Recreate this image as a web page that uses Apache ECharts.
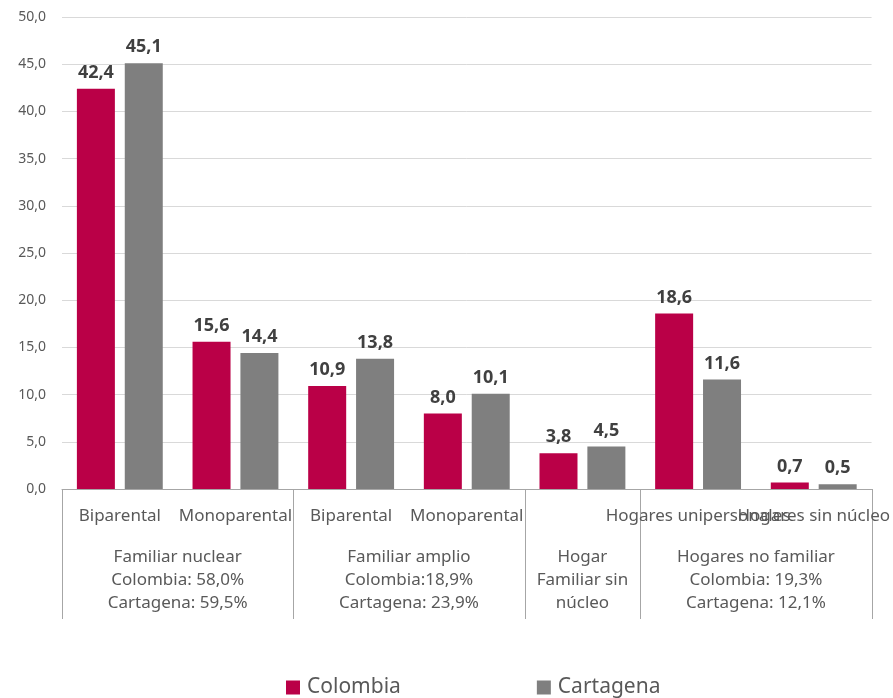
<!DOCTYPE html>
<html>
<head>
<meta charset="utf-8">
<script src="https://cdn.jsdelivr.net/npm/echarts@6/dist/echarts.min.js"></script>
<style>html,body{margin:0;padding:0;background:#fff}#c{width:893px;height:698px}</style>
</head>
<body>
<div id="c"></div>
<script>
const categories = ['Biparental', 'Monoparental', 'Biparental', 'Monoparental', '', 'Hogares unipersonales', 'Hogares sin núcleo'];
const colombia = [42.4, 15.6, 10.9, 8.0, 3.8, 18.6, 0.7];
const cartagena = [45.1, 14.4, 13.8, 10.1, 4.5, 11.6, 0.5];
const groupLabels = [
  'Familiar nuclear\nColombia: 58,0%\nCartagena: 59,5%',
  'Familiar amplio\nColombia:18,9%\nCartagena: 23,9%',
  'Hogar\nFamiliar sin\nnúcleo',
  'Hogares no familiar\nColombia: 19,3%\nCartagena: 12,1%'
];
const groupSpans = [2, 2, 1, 2];
const seriesNames = ['Colombia', 'Cartagena'];

const FONT = 'Noto Sans';
const fmt = v => v.toFixed(1).replace('.', ',');
const chart = echarts.init(document.getElementById('c'));
const labelCfg = {
  show: true, position: 'top', distance: 7,
  fontFamily: FONT, fontSize: 18, fontWeight: 'bold', color: '#404040',
  formatter: p => fmt(p.value)
};
chart.setOption({
  animation: false,
  textStyle: { fontFamily: FONT },
  grid: { left: 62, right: 21, top: 17, bottom: 209, containLabel: false },
  legend: {
    left: 286, top: 677, padding: 0, icon: 'rect', itemWidth: 14, itemHeight: 14, itemGap: 136,
    textStyle: { fontFamily: FONT, fontSize: 21, color: '#595959', padding: [0, 0, 0, 2] },
    data: seriesNames
  },
  xAxis: {
    type: 'category', data: categories,
    axisLine: { show: true, lineStyle: { color: '#a6a6a6', width: 1 } },
    axisTick: { show: false },
    axisLabel: { interval: 0, margin: 19, fontFamily: FONT, fontSize: 17, color: '#595959', hideOverlap: false }
  },
  yAxis: {
    type: 'value', min: 0, max: 50, interval: 5,
    axisLine: { show: false }, axisTick: { show: false },
    splitLine: { lineStyle: { color: '#d9d9d9', width: 1 } },
    axisLabel: { fontFamily: FONT, fontSize: 14, color: '#595959', margin: 16, formatter: v => fmt(v) }
  },
  series: [
    { name: seriesNames[0], type: 'bar', data: colombia, barWidth: 38, barGap: '26%', itemStyle: { color: '#BA0047' }, label: labelCfg },
    { name: seriesNames[1], type: 'bar', data: cartagena, barWidth: 38, itemStyle: { color: '#7F7F7F' }, label: labelCfg }
  ]
});

function drawGroups() {
  const c0 = chart.convertToPixel({ xAxisIndex: 0 }, 0);
  const c1 = chart.convertToPixel({ xAxisIndex: 0 }, 1);
  const band = c1 - c0;
  const y0 = chart.convertToPixel({ yAxisIndex: 0 }, 0);
  const els = [];
  let start = 0;
  const bounds = [];
  groupSpans.forEach((n, i) => {
    const l = chart.convertToPixel({ xAxisIndex: 0 }, start) - band / 2;
    const r = chart.convertToPixel({ xAxisIndex: 0 }, start + n - 1) + band / 2;
    if (i === 0) bounds.push(l);
    bounds.push(r);
    els.push({
      type: 'text', x: (l + r) / 2, y: y0 + 57, silent: true,
      style: { text: groupLabels[i], fontFamily: FONT, fontSize: 17, fill: '#595959', align: 'center', verticalAlign: 'top', lineHeight: 23 }
    });
    start += n;
  });
  bounds.forEach(b => {
    const x = Math.round(b) + 0.5;
    els.push({ type: 'line', silent: true, shape: { x1: x, y1: y0, x2: x, y2: y0 + 130 }, style: { stroke: '#a6a6a6', lineWidth: 1 } });
  });
  chart.setOption({ graphic: els });
}
drawGroups();
</script>
</body>
</html>
